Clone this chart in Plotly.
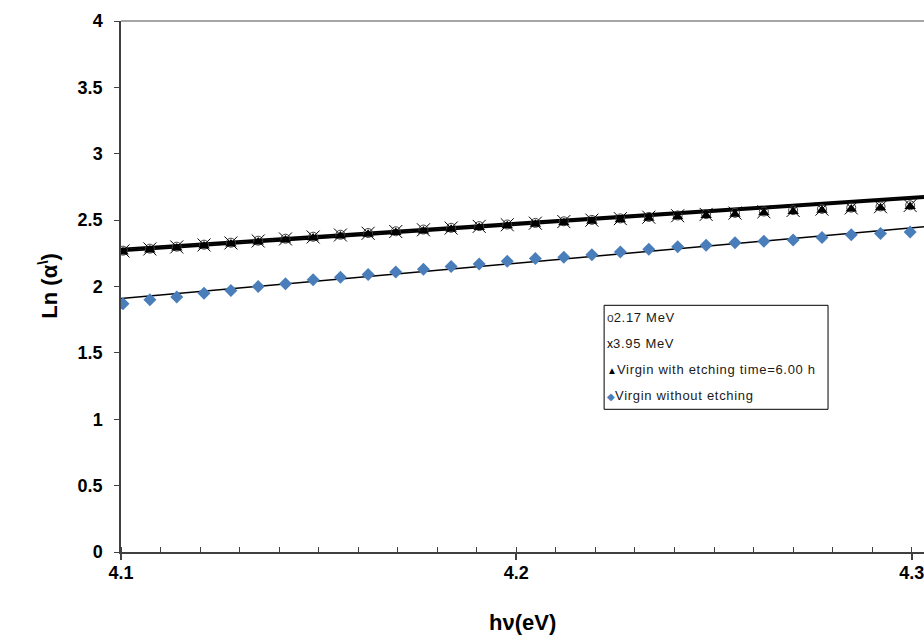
import plotly.graph_objects as go

# photon energy hv (eV) of each measured point
hv = [4.1005, 4.1073, 4.1141, 4.1210, 4.1278, 4.1347, 4.1416, 4.1486, 4.1555, 4.1625,
      4.1695, 4.1765, 4.1835, 4.1906, 4.1977, 4.2048, 4.2120, 4.2191, 4.2263, 4.2335,
      4.2408, 4.2480, 4.2553, 4.2626, 4.2700, 4.2773, 4.2847, 4.2921, 4.2996]

# Ln(alpha') for each sample
ln_217 = [2.270, 2.285, 2.300, 2.315, 2.330, 2.345, 2.360, 2.375, 2.390, 2.403,
          2.416, 2.429, 2.442, 2.455, 2.467, 2.479, 2.491, 2.502, 2.513, 2.524,
          2.535, 2.545, 2.555, 2.565, 2.575, 2.585, 2.594, 2.603, 2.612]
ln_395 = [2.268, 2.283, 2.298, 2.313, 2.328, 2.343, 2.358, 2.373, 2.388, 2.401,
          2.414, 2.427, 2.440, 2.453, 2.465, 2.477, 2.489, 2.500, 2.511, 2.522,
          2.533, 2.543, 2.553, 2.563, 2.573, 2.583, 2.592, 2.601, 2.610]
ln_etched = [2.260, 2.275, 2.290, 2.305, 2.320, 2.335, 2.350, 2.365, 2.380, 2.393,
             2.406, 2.419, 2.432, 2.445, 2.457, 2.469, 2.481, 2.492, 2.503, 2.514,
             2.525, 2.535, 2.545, 2.555, 2.565, 2.575, 2.584, 2.593, 2.602]
ln_virgin = [1.87, 1.90, 1.92, 1.95, 1.97, 2.00, 2.02, 2.05, 2.07, 2.09,
             2.11, 2.13, 2.15, 2.17, 2.19, 2.21, 2.22, 2.24, 2.26, 2.28,
             2.30, 2.31, 2.33, 2.34, 2.35, 2.37, 2.39, 2.40, 2.41]

# straight-line fits: end points (hv, Ln alpha')
fit_x = [4.1, 4.3031]
fit_217 = [2.285, 2.682]
fit_395 = [2.275, 2.674]
fit_etched = [2.265, 2.666]
fit_virgin = [1.909, 2.450]

legend_labels = ["2.17 MeV", "3.95 MeV", "Virgin with etching time=6.00 h", "Virgin without etching"]

BLUE = "#4A7EBB"
AX = "#404040"
FONT = "Arial, Liberation Sans, sans-serif"

fig = go.Figure()

# fitted lines
for fy, w in [(fit_virgin, 1.5), (fit_etched, 1.8), (fit_395, 1.8), (fit_217, 1.8)]:
    fig.add_trace(go.Scatter(x=fit_x, y=fy, mode="lines",
                             line=dict(color="black", width=w), showlegend=False))

# measured points
fig.add_trace(go.Scatter(x=hv, y=ln_virgin, mode="markers", showlegend=False,
                         marker=dict(symbol="diamond", size=10, color=BLUE,
                                     line=dict(width=0))))
fig.add_trace(go.Scatter(x=hv, y=ln_217, mode="markers", showlegend=False,
                         marker=dict(symbol="circle-open", size=9, color=AX,
                                     line=dict(width=1))))
fig.add_trace(go.Scatter(x=hv, y=ln_395, mode="markers", showlegend=False,
                         marker=dict(symbol="x-thin-open", size=13, color="black",
                                     line=dict(width=1, color="#222222"))))
fig.add_trace(go.Scatter(x=hv, y=ln_etched, mode="markers", showlegend=False,
                         marker=dict(symbol="triangle-up", size=10, color="black")))

# plot-area top edge
fig.add_shape(type="line", xref="paper", yref="paper", x0=0, x1=1, y0=1, y1=1,
              line=dict(color="#A6A6A6", width=2))

# legend box
pw, ph = 803.3, 531.0
def px_x(p):
    return (p - 120.7) / pw
def px_y(p):
    return (551.7 - p) / ph

fig.add_shape(type="rect", xref="paper", yref="paper",
              x0=px_x(604), x1=px_x(828), y0=px_y(409), y1=px_y(305),
              line=dict(color="black", width=1), fillcolor="white")

legend_syms = [
    "<span style='color:#404040;font-size:12px'>o</span>",
    "<span style='color:black;font-size:12px'>x</span>",
    "<span style='color:black;font-size:10px'>▲</span>",
    f"<span style='color:{BLUE};font-size:10px'>◆</span>",
]
legend_y = [317, 343, 369, 395]
for sym, lab, yy in zip(legend_syms, legend_labels, legend_y):
    fig.add_annotation(xref="paper", yref="paper", x=px_x(605), y=px_y(yy),
                       xanchor="left", yanchor="middle", showarrow=False,
                       text=f"{sym}<span style='letter-spacing:0.7px'>{lab}</span>",
                       font=dict(family=FONT, size=13, color="#1a1a1a"))

# axis titles
fig.add_annotation(xref="paper", yref="paper", x=px_x(48), y=px_y(286),
                   xanchor="center", yanchor="middle", showarrow=False, textangle=-90,
                   text="<b>Ln (α<sup>\\</sup>)</b>",
                   font=dict(family=FONT, size=22, color="black"))
fig.add_annotation(xref="paper", yref="paper", x=px_x(522), y=px_y(622),
                   xanchor="center", yanchor="middle", showarrow=False,
                   text="<b>hν(eV)</b>",
                   font=dict(family=FONT, size=22, color="black"))

fig.update_layout(
    width=924, height=637,
    margin=dict(l=121, r=0, t=21, b=85),
    paper_bgcolor="white", plot_bgcolor="white",
    showlegend=False,
    font=dict(family=FONT, color="black"),
)
fig.update_xaxes(
    range=[4.1, 4.3031], tickvals=[4.1, 4.2, 4.3], ticktext=["4.1", "4.2", "4.3"],
    showgrid=False, zeroline=False, showline=True, linecolor=AX, linewidth=1.5,
    ticks="outside", ticklen=6, tickwidth=1.5, tickcolor=AX,
    ticklabeloverflow="allow", ticklabelstandoff=-2,
    tickfont=dict(family=FONT, size=18, color="black", weight="bold"),
    minor=dict(dtick=0.01, tick0=4.1, ticks="inside", ticklen=5, tickwidth=1.2, tickcolor=AX),
)
fig.update_yaxes(
    range=[0, 4], dtick=0.5, tick0=0,
    showgrid=False, zeroline=False, showline=True, linecolor=AX, linewidth=1.5,
    ticks="outside", ticklen=5, tickwidth=1.2, tickcolor=AX,
    ticklabelstandoff=8,
    tickfont=dict(family=FONT, size=18, color="black", weight="bold"),
)

fig.write_html("out.html")
